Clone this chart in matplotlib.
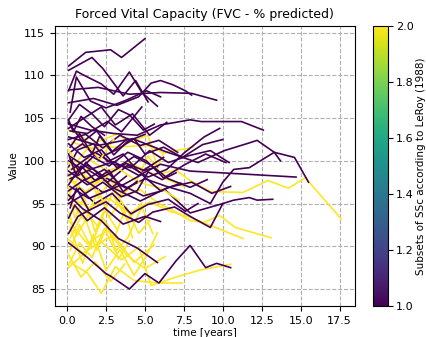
import matplotlib
matplotlib.use("Agg")
import matplotlib.pyplot as plt
from matplotlib import cm, colors

# subset 1 patients (limited SSc)
subset1_times = [
    [0.1, 1.2, 2.8, 3.5, 5.0],
    [0.1, 1.6, 2.3, 3.6, 4.4, 5.2],
    [0.1, 0.6, 1.0, 2.2, 3.0, 4.0, 4.8, 5.8],
    [0.2, 0.6, 1.5, 2.5, 3.8, 5.1, 6.0],
    [0.1, 1.7, 3.2, 4.6, 5.4, 6.0, 6.8, 7.6, 8.0],
    [0.1, 2.0, 4.0, 6.0, 8.0, 9.6],
    [0.1, 0.8, 1.6, 2.4, 3.3, 4.0, 4.9, 5.6],
    [0.1, 1.0, 2.2, 3.1, 4.2, 5.3, 6.4],
    [0.2, 1.3, 2.6, 3.5, 4.8],
    [0.1, 1.5, 3.0, 4.5, 6.0, 7.9, 8.6, 11.2, 12.6],
    [0.1, 1.2, 2.3, 3.4, 4.7, 5.9, 7.1],
    [0.2, 1.0, 2.0, 3.2, 4.3, 5.0, 6.2, 7.4, 8.7, 10.0],
    [0.1, 0.9, 1.9, 3.0, 4.1, 5.3, 6.5, 7.8, 9.2, 10.4],
    [0.1, 0.7, 1.7, 2.6, 3.6, 4.6, 5.8],
    [0.2, 1.4, 2.6, 3.9, 5.2, 6.4, 7.5, 8.8, 9.8],
    [0.1, 2.0, 4.2, 6.3, 8.4, 10.1, 11.7, 12.2, 13.3, 14.6, 15.5],
    [0.1, 1.3, 2.5, 3.8, 5.0, 6.4, 7.9, 9.2, 10.0, 10.7, 11.7, 13.3, 13.7],
    [0.2, 1.5, 3.0, 4.6, 6.0, 7.9, 10.9, 14.7],
    [0.1, 1.1, 2.3, 3.5, 4.9, 6.3, 7.9, 10.0, 10.7, 11.7, 12.2, 13.2],
    [0.1, 0.8, 1.8, 2.9, 4.1, 5.2, 6.5, 7.6, 8.4],
    [0.2, 0.6, 1.4, 2.5, 3.4, 4.6, 5.5, 6.9, 8.0, 9.2, 10.0],
    [0.1, 0.5, 1.3, 2.4, 3.6, 5.0, 6.0],
    [0.1, 0.7, 1.4],
    [0.1, 1.3, 2.5, 2.8, 4.0, 5.0, 5.9, 7.0, 7.9, 8.9, 9.6, 10.5],
    [0.1, 1.0, 2.2, 3.3, 4.5, 5.8],
    [0.2, 1.2, 2.4, 3.5, 4.8, 6.0, 7.3],
    [0.1, 1.0, 1.9, 2.9, 3.9],
    [0.3, 1.5, 2.7, 3.9, 5.1, 6.2, 7.5, 8.9, 10.2],
    [0.1, 0.9, 1.8, 2.7, 3.6, 4.5],
    [0.1, 1.1, 2.2, 3.2, 4.3, 5.4, 6.5, 7.9, 9.0],
    [0.2, 0.8, 1.6, 2.1, 3.0, 3.9, 5.0],
    [0.1, 1.2, 2.3, 3.5, 4.5, 5.2, 6.1, 7.0],
    [0.1, 0.4, 0.9, 1.6, 2.4],
    [0.1, 1.3, 2.6, 3.8, 4.9, 6.2],
    [0.2, 1.4, 3.0, 4.7, 6.5, 8.0, 9.3, 10.5],
    [0.1, 0.6, 1.2, 2.0, 2.9, 3.8],
]
subset1_values = [
    [111.1, 112.7, 113.0, 112.1, 114.3],
    [110.6, 112.1, 110.8, 107.6, 109.4, 106.9],
    [108.2, 110.5, 110.1, 109.0, 107.8, 110.4, 108.0, 106.4],
    [105.7, 109.8, 107.0, 106.2, 107.1, 108.2, 107.5],
    [106.8, 107.3, 106.5, 107.5, 109.1, 109.4, 108.9, 108.2, 107.7],
    [108.3, 108.6, 107.8, 108.0, 107.9, 107.1],
    [104.8, 106.6, 105.5, 104.0, 106.0, 105.4, 103.6, 104.3],
    [103.8, 104.9, 106.3, 104.2, 105.5, 103.0, 104.5],
    [103.5, 103.2, 104.6, 103.4, 106.3],
    [104.3, 103.6, 103.2, 103.0, 104.2, 104.8, 104.6, 104.6, 103.6],
    [102.5, 103.1, 101.5, 103.0, 101.8, 102.4, 101.0],
    [101.0, 102.0, 100.3, 101.3, 102.6, 100.8, 101.6, 100.4, 101.9, 102.5],
    [100.0, 99.1, 100.9, 99.6, 99.2, 101.2, 99.8, 100.6, 101.2, 99.8],
    [99.3, 101.3, 102.0, 99.9, 100.8, 98.7, 99.3],
    [97.9, 98.9, 97.5, 99.5, 98.1, 99.0, 100.9, 102.8, 103.8],
    [102.8, 101.8, 102.6, 101.1, 99.8, 101.2, 102.1, 102.4, 101.0, 100.4, 97.5],
    [98.3, 99.5, 98.0, 96.8, 97.9, 97.0, 96.2, 95.0, 97.5, 99.0, 99.2, 101.0, 100.0],
    [100.5, 99.0, 99.9, 98.3, 99.6, 98.8, 98.5, 98.1],
    [96.5, 97.8, 96.3, 97.2, 95.9, 96.6, 93.9, 95.0, 95.4, 95.7, 95.4, 95.5],
    [95.4, 96.8, 95.0, 96.2, 93.8, 94.9, 95.5, 94.1, 95.0],
    [94.5, 96.8, 94.2, 95.2, 93.9, 92.8, 94.0, 94.6, 93.4, 92.2, 95.0],
    [93.3, 94.8, 93.0, 94.5, 92.6, 93.5, 92.9],
    [91.5, 93.5, 94.2],
    [90.4, 88.7, 86.8, 86.5, 85.0, 86.8, 85.7, 88.3, 90.1, 87.5, 88.0, 87.5],
    [96.0, 94.4, 93.0, 90.9, 89.8, 88.1],
    [100.2, 97.8, 99.0, 97.1, 98.4, 96.5, 97.4],
    [104.5, 102.2, 103.5, 101.1, 102.6],
    [99.0, 100.6, 99.4, 101.0, 100.0, 98.0, 99.5, 100.8, 99.8],
    [97.2, 99.4, 97.7, 98.9, 96.4, 97.6],
    [102.0, 100.4, 101.3, 99.2, 100.5, 99.5, 97.9, 96.9, 97.8],
    [101.6, 103.2, 100.8, 102.9, 100.7, 102.3, 103.1],
    [95.0, 96.2, 97.5, 95.8, 96.5, 98.7, 97.8, 98.6],
    [104.8, 103.4, 105.2, 104.0, 103.0],
    [98.8, 97.2, 98.4, 99.7, 98.9, 100.4],
    [97.0, 95.6, 96.8, 95.3, 96.9, 97.5, 96.2, 97.0],
    [100.8, 98.2, 99.8, 98.5, 96.9, 98.2],
]

# subset 2 patients (diffuse SSc)
subset2_times = [
    [0.1, 0.9, 1.5, 3.3, 3.9, 5.2, 5.8, 6.2],
    [0.3, 1.5, 2.8, 5.2, 6.2, 8.1],
    [0.2, 1.3, 2.6, 4.0, 5.6, 7.0, 7.9, 9.2, 11.3, 12.9, 14.2, 15.3, 17.6],
    [0.1, 1.2, 2.3, 3.4, 4.7, 5.9, 6.8, 7.9, 8.8, 9.8, 10.8, 13.1],
    [0.1, 1.4, 2.7, 4.0, 5.3, 6.6, 7.9, 11.3],
    [0.1, 1.0, 2.2, 3.5, 4.6, 5.4, 7.0, 8.5, 10.5],
    [0.3, 1.3, 2.2, 3.1, 4.3, 5.8, 7.4],
    [0.1, 0.6, 1.2, 1.9, 2.6, 3.3, 4.0],
    [0.2, 0.8, 1.5, 2.3, 3.0, 3.8, 4.6, 5.3],
    [0.1, 0.5, 1.1, 1.8, 2.4, 3.2],
    [0.2, 1.0, 1.7, 2.5, 3.4, 4.3, 5.1, 5.8],
    [0.1, 0.8, 1.6, 2.4, 3.1, 3.9, 4.8, 5.5],
    [0.1, 0.7, 1.3, 2.0, 2.8, 3.6],
    [0.2, 0.9, 1.7, 2.6, 3.5, 4.4, 5.2, 6.2, 7.5],
    [0.1, 0.6, 1.4, 2.1, 3.0],
    [0.1, 1.3, 2.6, 3.8, 5.0, 6.3],
    [0.2, 1.1, 2.0, 2.9, 3.9, 4.8],
    [0.1, 0.9, 1.8, 2.8, 3.7],
    [0.1, 1.0, 2.1, 3.3, 4.6, 6.0, 7.2],
    [0.3, 1.2, 2.0, 2.7, 3.5, 4.2],
    [0.1, 1.5, 3.0, 4.3, 5.6],
]
subset2_values = [
    [103.6, 103.0, 101.9, 103.2, 102.1, 103.0, 99.2, 100.9],
    [102.2, 101.5, 101.6, 101.8, 100.9, 101.6],
    [99.0, 100.3, 98.8, 99.8, 98.4, 98.9, 97.7, 96.4, 96.3, 97.7, 96.8, 98.0, 93.2],
    [97.8, 96.4, 97.9, 95.7, 96.6, 95.0, 94.2, 93.0, 92.8, 93.6, 92.2, 91.0],
    [95.9, 94.5, 95.6, 93.9, 95.2, 94.1, 93.4, 90.9],
    [90.8, 89.2, 90.5, 88.4, 89.9, 85.4, 86.4, 87.2, 87.9],
    [88.0, 86.9, 84.5, 87.6, 86.0, 85.7, 85.7],
    [94.0, 91.2, 93.1, 89.5, 92.6, 88.5, 90.6],
    [89.5, 92.5, 90.0, 93.4, 90.8, 94.6, 91.5, 93.0],
    [97.0, 93.3, 95.8, 91.7, 94.3, 92.0],
    [92.3, 88.0, 91.4, 87.2, 89.6, 86.6, 88.9, 91.6],
    [87.8, 90.4, 88.7, 92.1, 89.4, 91.0, 94.6, 91.5],
    [98.5, 96.9, 99.2, 95.6, 97.8, 94.7],
    [96.3, 98.6, 97.1, 99.0, 96.0, 97.4, 100.6, 98.0, 97.0],
    [101.3, 99.8, 101.7, 100.1, 102.5],
    [93.0, 90.3, 91.9, 89.0, 87.4, 88.8],
    [91.0, 94.2, 92.3, 96.2, 93.0, 95.1],
    [89.0, 86.4, 88.2, 85.9, 87.9],
    [99.8, 98.3, 97.6, 99.1, 97.5, 96.8, 95.4],
    [95.0, 92.9, 96.6, 93.4, 95.3, 91.0],
    [87.5, 89.8, 91.3, 88.1, 90.2],
]

norm = colors.Normalize(vmin=1, vmax=2)
cmap = plt.get_cmap("viridis")

fig = plt.figure(figsize=(4.26, 3.37), dpi=100)
ax = fig.add_axes([0.129, 0.092, 0.704, 0.831])
cax = fig.add_axes([0.876, 0.092, 0.035, 0.831])

# interleave the two groups so neither sits fully on top
n = max(len(subset1_times), len(subset2_times))
for i in range(n):
    if i < len(subset1_times):
        ax.plot(subset1_times[i], subset1_values[i], color=cmap(norm(1)), lw=1.2)
    if i < len(subset2_times):
        ax.plot(subset2_times[i], subset2_values[i], color=cmap(norm(2)), lw=1.2)

ax.grid(True, linestyle="--", color="#b0b0b0", lw=0.8)
ax.set_axisbelow(True)
ax.set_title("Forced Vital Capacity (FVC - % predicted)", fontsize=9)
ax.set_xlabel("time [years]", fontsize=7.5, labelpad=2)
ax.set_ylabel("Value", fontsize=7.5)
ax.tick_params(labelsize=8)
ax.set_xticks([0.0, 2.5, 5.0, 7.5, 10.0, 12.5, 15.0, 17.5])

sm = cm.ScalarMappable(norm=norm, cmap=cmap)
cb = fig.colorbar(sm, cax=cax)
cb.set_label("Subsets of SSc according to LeRoy (1988)", fontsize=7.5, labelpad=2)
cb.ax.tick_params(labelsize=8, pad=2)

fig.savefig("out.png", dpi=100)
